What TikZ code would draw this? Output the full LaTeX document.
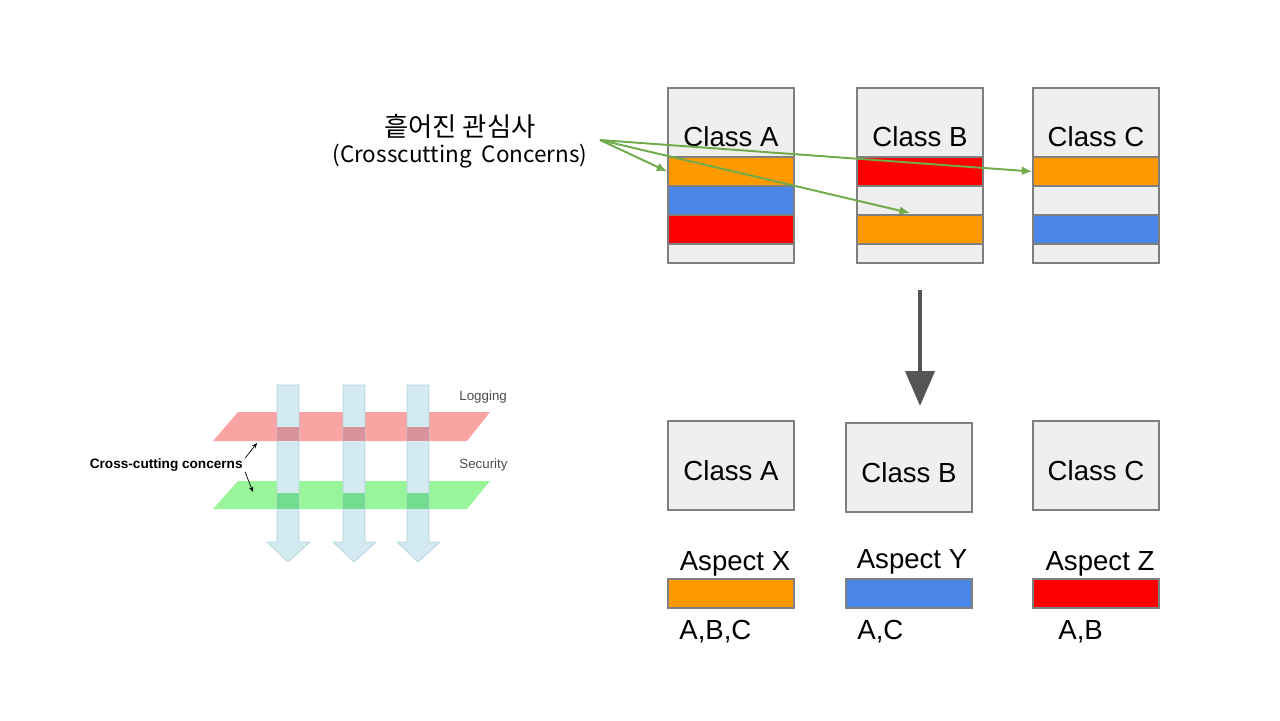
\documentclass[tikz,border=0pt]{standalone}
\usepackage{fontspec}
\setmainfont{Liberation Sans}
\newfontfamily\kor{Noto Sans CJK KR}
\usetikzlibrary{arrows.meta}

\definecolor{boxgray}{HTML}{EFEFEF}
\definecolor{boxline}{HTML}{7F7F7F}
\definecolor{xorange}{HTML}{FF9900}
\definecolor{yblue}{HTML}{4A86E8}
\definecolor{zred}{HTML}{FF0000}
\definecolor{pointer}{HTML}{6FAB4A}
\definecolor{bigarrow}{HTML}{555555}
\definecolor{logpink}{HTML}{F9A3A3}
\definecolor{logdark}{HTML}{D9939C}
\definecolor{secgreen}{HTML}{98F59A}
\definecolor{secdark}{HTML}{74DC91}
\definecolor{flow}{HTML}{D3EAF0}
\definecolor{flowline}{HTML}{B5D2DA}

\begin{document}
\begin{tikzpicture}[x=0.02cm, y=-0.02cm,
    frame/.style={draw=boxline, fill=boxgray, line width=0.8pt, minimum width=2.52cm, minimum height=3.5cm, inner sep=0pt},
    stripe/.style={draw=boxline, line width=0.8pt, minimum width=2.52cm, minimum height=0.58cm, inner sep=0pt},
    cls/.style={draw=boxline, fill=boxgray, line width=0.8pt, minimum width=2.52cm, minimum height=1.78cm, inner sep=0pt},
    cname/.style={font=\fontsize{15.7}{18}\selectfont, inner sep=0pt, text depth=0pt},
    pointer/.style={draw=pointer, line width=1.1pt, -{Latex[length=6pt, width=5pt]}},
    small/.style={font=\fontsize{7.6}{9}\selectfont, inner sep=0pt}]

            \useasboundingbox (0,0) rectangle (1280,720);

            % scattered concerns in the classes
            \node[frame] (ta) at (731,175.5) {};
            \node[frame] (tb) at (920,175.5) {};
            \node[frame] (tc) at (1096,175.5) {};
            \node[cname] at (731,136.5) {Class A};
            \node[cname] at (920,136.5) {Class B};
            \node[cname] at (1096,136.5) {Class C};

            \node[stripe, fill=xorange] (ta1) at (731,171.5) {};
            \node[stripe, fill=yblue] (ta2) at (731,200.5) {};
            \node[stripe, fill=zred] (ta3) at (731,229.5) {};
            \node[stripe, fill=zred] (tb1) at (920,171.5) {};
            \node[stripe, fill=xorange] (tb3) at (920,229.5) {};
            \node[stripe, fill=xorange] (tc1) at (1096,171.5) {};
            \node[stripe, fill=yblue] (tc3) at (1096,229.5) {};

            \node[align=center, inner sep=0pt] (scat) at (460,141)
                {{\kor\fontsize{15}{19}\selectfont 흩어진 관심사}\\[3pt]
                 {\kor\fontsize{12.8}{16}\selectfont (Crosscutting\ \ Concerns)}};
            \coordinate (src) at (600,140);
            \coordinate (hitb) at (910,213);
            \draw[pointer] (src) -- (ta1.west);
            \draw[pointer] (src) -- (hitb);
            \draw[pointer] (src) -- (tc1.west);

            % weaving
            \coordinate (down1) at (920,290);
            \coordinate (down2) at (920,406);
            \draw[bigarrow, line width=2.4pt, -{Triangle[length=0.7cm, width=0.58cm]}] (down1) -- (down2);

            % separated classes and aspects
            \node[cls] (ba) at (731,465.5) {};
            \node[cls] (bb) at (909,467.5) {};
            \node[cls] (bc) at (1096,465.5) {};
            \node[cname] at (731,470) {Class A};
            \node[cname] at (909,472) {Class B};
            \node[cname] at (1096,470) {Class C};

            \node[stripe, fill=xorange] (ax) at (731,593.5) {};
            \node[stripe, fill=yblue] (ay) at (909,593.5) {};
            \node[stripe, fill=zred] (az) at (1096,593.5) {};
            \node[cname] at (735,561) {Aspect X};
            \node[cname] at (912,559) {Aspect Y};
            \node[cname] at (1100,561) {Aspect Z};
            \node[cname, anchor=west] at (679,630) {A,B,C};
            \node[cname, anchor=west] at (857,630) {A,C};
            \node[cname, anchor=west] at (1058,630) {A,B};

            % cross-cutting planes
            \fill[logpink] (238,412) -- (490,412) -- (467,441) -- (213,441) -- cycle;
            \fill[secgreen] (238,481) -- (490,481) -- (467,509) -- (213,509) -- cycle;

            \filldraw[fill=flow, draw=flowline, line width=0.4pt] (277,385) -- (299,385) -- (299,542) -- (310,542) -- (288,562) -- (267,542) -- (277,542) -- cycle;
            \filldraw[fill=flow, draw=flowline, line width=0.4pt] (343,385) -- (365,385) -- (365,542) -- (376,542) -- (354,562) -- (333,542) -- (343,542) -- cycle;
            \filldraw[fill=flow, draw=flowline, line width=0.4pt] (407,385) -- (429,385) -- (429,542) -- (440,542) -- (418,562) -- (397,542) -- (407,542) -- cycle;

            \fill[logdark] (277,427) rectangle (299,441);
            \fill[logdark] (343,427) rectangle (365,441);
            \fill[logdark] (407,427) rectangle (429,441);
            \fill[secdark] (277,493) rectangle (299,509);
            \fill[secdark] (343,493) rectangle (365,509);
            \fill[secdark] (407,493) rectangle (429,509);

            \node[small, text=black!70, anchor=west] (logging) at (459,397) {Logging};
            \node[small, text=black!70, anchor=west] (security) at (459,465) {Security};
            \node[small, font=\fontsize{7.75}{9}\selectfont\bfseries, anchor=east] (cc) at (243,465) {Cross-cutting concerns};
            \coordinate (cclog) at (257,443);
            \coordinate (ccsec) at (253,492);
            \draw[-{Stealth[length=3pt, width=2.5pt]}, line width=0.4pt] (cc.north east) ++(2,0) -- (cclog);
            \draw[-{Stealth[length=3pt, width=2.5pt]}, line width=0.4pt] (cc.south east) ++(2,0) -- (ccsec);
        \end{tikzpicture}
\end{document}
